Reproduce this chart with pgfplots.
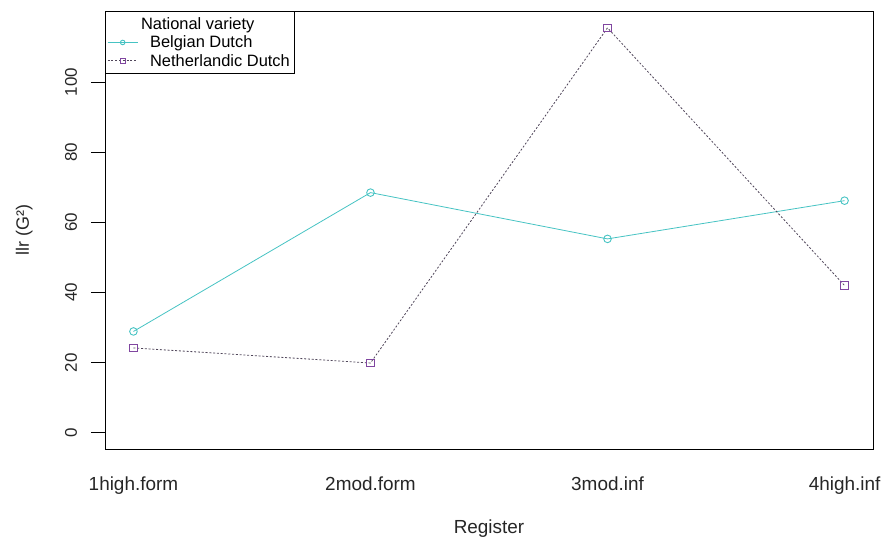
\documentclass[border=0pt]{standalone}
\usepackage{pgfplots}
\pgfplotsset{compat=1.18}
\usepackage{fontspec}
\setmainfont{Liberation Sans}
\definecolor{bel}{RGB}{70,195,195}
\definecolor{neth}{RGB}{128,70,160}
\definecolor{nethline}{RGB}{80,70,90}
\begin{document}
\begin{tikzpicture}
\useasboundingbox (-105bp,-89bp) rectangle (778bp,449bp);
\begin{axis}[
  at={(0,0)}, anchor=south west,
  scale only axis,
  width=768bp, height=438bp,
  xmin=0.88, xmax=4.12,
  ymin=-4.63, ymax=120.3,
  xtick={1,2,3,4},
  xticklabels={1high.form,2mod.form,3mod.inf,4high.inf},
  ytick={0,20,40,60,80,100},
  ytick pos=left, xtick pos=bottom,
  tick align=outside,
  major tick length=14bp,
  ytick style={draw=black, line width=0.8bp},
  xtick style={draw=none},
  axis line style={black, line width=0.8bp},
  xticklabel style={font=\fontsize{19}{21}\selectfont, anchor=base, yshift=-27bp, text=black!85},
  yticklabel style={font=\fontsize{17}{19}\selectfont, rotate=90, anchor=base, yshift=14bp, text=black!85},
  /pgf/number format/assume math mode=true,
  xlabel={Register},
  ylabel={llr (G²)},
  xlabel style={font=\fontsize{19}{21}\selectfont, text=black!85, at={(0.5,0)}, anchor=base, yshift=-84bp},
  ylabel style={font=\fontsize{18}{20}\selectfont, text=black!85, at={(0,0.5)}, anchor=base, yshift=76bp},
  legend style={at={(0,1)}, anchor=north west, draw=black, line width=0.6bp,
    font=\fontsize{16.5}{17}\selectfont, inner xsep=2bp, inner ysep=4bp, row sep=1bp,
    cells={anchor=west}, legend cell align=left,
    /tikz/every odd column/.append style={column sep=10bp}},
  legend image code/.code={\draw[mark repeat=2,mark phase=2,#1] plot coordinates {(0bp,0bp) (15bp,0bp) (30bp,0bp)};},
  legend image post style={mark size=2.3bp},
  clip=false,
]
\addlegendimage{empty legend}
\addlegendentry{\hspace*{-9bp}National variety\rule[-7bp]{0pt}{19bp}}
\addplot[color=bel, line width=0.8bp, mark=o, mark size=3.8bp, mark options={solid, line width=0.9bp}]
  coordinates {(1,28.9) (2,68.5) (3,55.3) (4,66.2)};
\addlegendentry{Belgian Dutch}
\addplot[color=nethline, line width=0.8bp, dash pattern=on 2bp off 1.8bp, mark=square, mark size=3.8bp, mark options={solid, draw=neth, line width=0.9bp}]
  coordinates {(1,24.2) (2,19.9) (3,115.5) (4,42.0)};
\addlegendentry{Netherlandic Dutch}
\end{axis}
\end{tikzpicture}
\end{document}
